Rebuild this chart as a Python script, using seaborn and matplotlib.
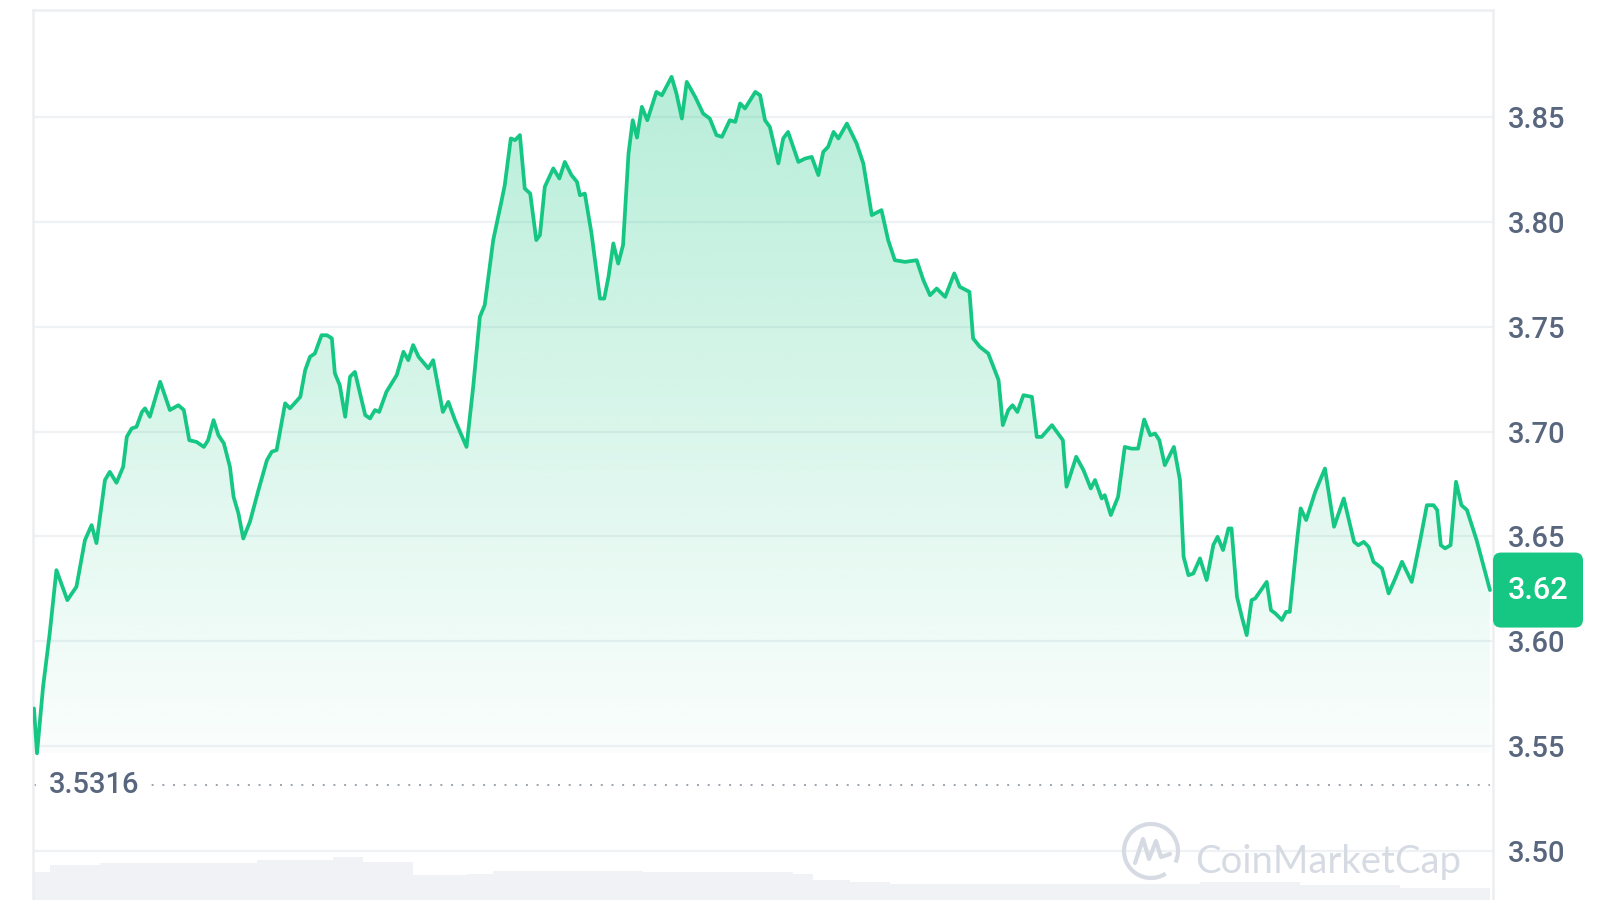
import numpy as np
import pandas as pd
import seaborn as sns
import matplotlib.pyplot as plt
from matplotlib.patches import FancyBboxPatch, Arc

# 24h price, hours since start of window
hours = [0.00, 0.05, 0.15, 0.26, 0.37, 0.55, 0.70, 0.84, 0.95, 1.03,
         1.17, 1.25, 1.36, 1.47, 1.53, 1.61, 1.69, 1.78, 1.83, 1.91,
         2.08, 2.24, 2.38, 2.47, 2.56, 2.68, 2.80, 2.87, 2.96, 3.04,
         3.13, 3.23, 3.29, 3.37, 3.45, 3.56, 3.70, 3.84, 3.92, 4.00,
         4.14, 4.22, 4.39, 4.47, 4.55, 4.63, 4.74, 4.83, 4.91, 4.96,
         5.04, 5.13, 5.21, 5.29, 5.46, 5.54, 5.62, 5.69, 5.81, 5.98,
         6.09, 6.17, 6.25, 6.34, 6.50, 6.58, 6.74, 6.83, 6.94, 7.13,
         7.24, 7.35, 7.43, 7.57, 7.71, 7.76, 7.86, 7.93, 8.01, 8.09,
         8.18, 8.28, 8.34, 8.42, 8.56, 8.66, 8.75, 8.86, 8.95, 9.00,
         9.08, 9.19, 9.33, 9.40, 9.47, 9.55, 9.63, 9.71, 9.80, 9.87,
         9.94, 10.02, 10.11, 10.26, 10.35, 10.51, 10.59, 10.68, 10.76, 10.90,
         11.03, 11.14, 11.25, 11.34, 11.47, 11.56, 11.64, 11.72, 11.89, 11.97,
         12.05, 12.13, 12.27, 12.35, 12.43, 12.60, 12.71, 12.82, 12.93, 13.01,
         13.09, 13.18, 13.26, 13.40, 13.56, 13.67, 13.81, 13.97, 14.08, 14.19,
         14.36, 14.55, 14.66, 14.77, 14.88, 15.02, 15.17, 15.26, 15.42, 15.48,
         15.59, 15.73, 15.90, 15.97, 16.06, 16.13, 16.21, 16.31, 16.45, 16.53,
         16.61, 16.78, 16.96, 17.02, 17.18, 17.30, 17.42, 17.49, 17.60, 17.65,
         17.75, 17.87, 17.98, 18.09, 18.20, 18.30, 18.40, 18.48, 18.55, 18.64,
         18.79, 18.89, 18.95, 19.03, 19.11, 19.22, 19.33, 19.44, 19.51, 19.60,
         19.69, 19.74, 19.83, 19.91, 19.99, 20.07, 20.13, 20.32, 20.39, 20.46,
         20.57, 20.64, 20.70, 20.82, 20.88, 20.97, 21.12, 21.28, 21.43, 21.59,
         21.76, 21.83, 21.92, 22.00, 22.08, 22.22, 22.33, 22.44, 22.55, 22.71,
         22.85, 22.96, 23.07, 23.13, 23.19, 23.26, 23.35, 23.44, 23.53, 23.62,
         23.78, 24.00]

prices = [3.5679, 3.5465, 3.5782, 3.6039, 3.6339, 3.6196, 3.6260, 3.6482, 3.6554, 3.6468,
          3.6769, 3.6808, 3.6756, 3.6832, 3.6975, 3.7015, 3.7023, 3.7094, 3.7111, 3.7071,
          3.7238, 3.7103, 3.7126, 3.7103, 3.6959, 3.6951, 3.6927, 3.6959, 3.7055, 3.6983,
          3.6944, 3.6832, 3.6689, 3.6610, 3.6490, 3.6570, 3.6721, 3.6864, 3.6904, 3.6912,
          3.7135, 3.7111, 3.7166, 3.7293, 3.7357, 3.7373, 3.7460, 3.7460, 3.7445, 3.7278,
          3.7222, 3.7071, 3.7262, 3.7285, 3.7079, 3.7063, 3.7103, 3.7094, 3.7190, 3.7270,
          3.7381, 3.7341, 3.7413, 3.7357, 3.7302, 3.7341, 3.7094, 3.7142, 3.7055, 3.6927,
          3.7214, 3.7548, 3.7604, 3.7914, 3.8105, 3.8176, 3.8399, 3.8391, 3.8415, 3.8160,
          3.8136, 3.7914, 3.7938, 3.8168, 3.8256, 3.8208, 3.8287, 3.8224, 3.8192, 3.8128,
          3.8136, 3.7946, 3.7635, 3.7635, 3.7739, 3.7898, 3.7802, 3.7890, 3.8327, 3.8486,
          3.8403, 3.8550, 3.8486, 3.8621, 3.8605, 3.8693, 3.8614, 3.8494, 3.8669, 3.8597,
          3.8518, 3.8494, 3.8415, 3.8407, 3.8486, 3.8478, 3.8566, 3.8542, 3.8621, 3.8605,
          3.8486, 3.8454, 3.8280, 3.8399, 3.8430, 3.8287, 3.8303, 3.8311, 3.8224, 3.8335,
          3.8359, 3.8430, 3.8399, 3.8470, 3.8375, 3.8280, 3.8033, 3.8057, 3.7914, 3.7818,
          3.7810, 3.7818, 3.7723, 3.7651, 3.7683, 3.7643, 3.7755, 3.7691, 3.7667, 3.7445,
          3.7405, 3.7373, 3.7246, 3.7031, 3.7103, 3.7126, 3.7094, 3.7174, 3.7166, 3.6975,
          3.6975, 3.7031, 3.6959, 3.6737, 3.6880, 3.6816, 3.6729, 3.6769, 3.6681, 3.6697,
          3.6602, 3.6689, 3.6927, 3.6919, 3.6919, 3.7058, 3.6983, 3.6991, 3.6959, 3.6840,
          3.6927, 3.6769, 3.6403, 3.6315, 3.6323, 3.6395, 3.6292, 3.6459, 3.6498, 3.6435,
          3.6538, 3.6538, 3.6212, 3.6116, 3.6029, 3.6196, 3.6204, 3.6283, 3.6148, 3.6133,
          3.6101, 3.6140, 3.6140, 3.6482, 3.6634, 3.6578, 3.6713, 3.6824, 3.6546, 3.6681,
          3.6474, 3.6458, 3.6474, 3.6450, 3.6379, 3.6347, 3.6228, 3.6300, 3.6379, 3.6283,
          3.6482, 3.6649, 3.6649, 3.6626, 3.6458, 3.6443, 3.6458, 3.6761, 3.6649, 3.6626,
          3.6482, 3.6244]

open_price = 3.5316
y_ticks = [3.50, 3.55, 3.60, 3.65, 3.70, 3.75, 3.80, 3.85]

# volume strip at the bottom (arbitrary units, step profile)
vol_hours = [0.0, 0.26, 1.09, 3.68, 4.93, 5.42, 5.98, 6.25, 7.14, 7.57, 8.67,
             10.04, 12.51, 12.84, 13.45, 14.11, 17.13, 19.22, 20.87, 22.52, 24.0]
vol_musd = [14, 17.5, 18.5, 20, 21.5, 19, 18.8, 12.5, 13, 14.5, 14.5,
            14, 13, 10, 9, 8, 8, 9, 7.5, 6, 5]

assert len(hours) == len(prices)

GREEN = "#16c784"
GRID = "#eff2f5"
LABEL = "#58667e"

sns.set_theme(style="white")
plt.rcParams['font.family'] = ['Roboto', 'DejaVu Sans']

fig = plt.figure(figsize=(16, 9), dpi=100)
rect = [33 / 1600, 0, 1460 / 1600, 890 / 900]
xlim = (-0.016, 24.05)
ylim = (3.4765, 3.9012)

# volume
ax_vol = fig.add_axes(rect, zorder=0)
ax_vol.fill_between(vol_hours, vol_musd, step="post", color="#f0f2f5", lw=0)
ax_vol.set_xlim(xlim)
ax_vol.set_ylim(0, 445)
ax_vol.axis("off")

# price
ax = fig.add_axes(rect, zorder=1)
ax.patch.set_alpha(0)

df = pd.DataFrame({"hour": hours, "price": prices})
sns.lineplot(data=df, x="hour", y="price", ax=ax, color=GREEN, lw=2.7, zorder=4,
             solid_joinstyle="round", solid_capstyle="round")

# gradient fill under the line
pmin, pmax = min(prices), max(prices)
poly = ax.fill_between(hours, prices, pmin, color="none", lw=0)
grad = np.zeros((256, 1, 4))
grad[..., 0] = 22 / 255
grad[..., 1] = 199 / 255
grad[..., 2] = 132 / 255
grad[:, 0, 3] = np.linspace(0.02, 0.31, 256)
im = ax.imshow(grad, extent=[hours[0], hours[-1], pmin, pmax], origin="lower",
               aspect="auto", zorder=2, interpolation="bilinear")
im.set_clip_path(poly.get_paths()[0], transform=ax.transData)

ax.set_xlim(xlim)
ax.set_ylim(ylim)
ax.set_xlabel("")
ax.set_ylabel("")
ax.set_xticks([])
ax.set_yticks(y_ticks)
ax.set_yticklabels([f"{t:.2f}" for t in y_ticks], fontweight="medium")
ax.yaxis.tick_right()
ax.tick_params(axis="y", length=0, pad=11, labelsize=21, labelcolor=LABEL)
ax.grid(axis="y", color=GRID, lw=1.6)
ax.grid(axis="x", visible=False)
for side in ["left", "top", "right"]:
    ax.spines[side].set_color("#eceef1")
    ax.spines[side].set_linewidth(1.8)
ax.spines["bottom"].set_visible(False)

# open price reference
ax.plot([hours[0], hours[-1]], [open_price, open_price], ls=(0, (1, 4.5)),
        color="#9aa3b0", lw=1.4, zorder=2.5)
ax.text(hours[0] + 0.25, open_price, f"{open_price:.4f}", ha="left", va="center",
        fontsize=21, fontweight="medium", color=LABEL, zorder=3,
        bbox=dict(boxstyle="square,pad=0.35", fc="white", ec="none"))

# last price badge
fig.canvas.draw()
y_pix = ax.transData.transform((0, prices[-1]))[1]
badge = FancyBboxPatch((1493 / 1600, (y_pix - 37.5) / 900), 90 / 1600, 75 / 900,
                       boxstyle="round,pad=0,rounding_size=0.005",
                       mutation_aspect=1600 / 900,
                       transform=fig.transFigure, fc=GREEN, ec="none", zorder=5)
fig.add_artist(badge)
fig.text(1538 / 1600, y_pix / 900, f"{prices[-1]:.2f}", ha="center", va="center",
         color="white", fontsize=22, fontweight="medium", zorder=6)

# watermark
WM = "#d6dbe3"
cx, cy, r = 1151, 851, 27
fig.add_artist(Arc((cx / 1600, 1 - cy / 900), 2 * r / 1600, 2 * r / 900,
                   theta1=-40, theta2=290, transform=fig.transFigure,
                   color=WM, lw=3, zorder=2))
mx = [-16, -8, -2, 5, 10, 19]
my = [12, -12, 8, -10, 6, 3]
fig.add_artist(plt.Line2D([(cx + a) / 1600 for a in mx], [1 - (cy + b) / 900 for b in my],
                          transform=fig.transFigure, color=WM, lw=3, zorder=2,
                          solid_joinstyle="round"))
fig.text(1195 / 1600, 1 - 873 / 900, "CoinMarketCap", ha="left", va="baseline",
         fontsize=27.5, color=WM, family=["Lato", "DejaVu Sans"], zorder=2)

fig.savefig("out.png", dpi=100)
